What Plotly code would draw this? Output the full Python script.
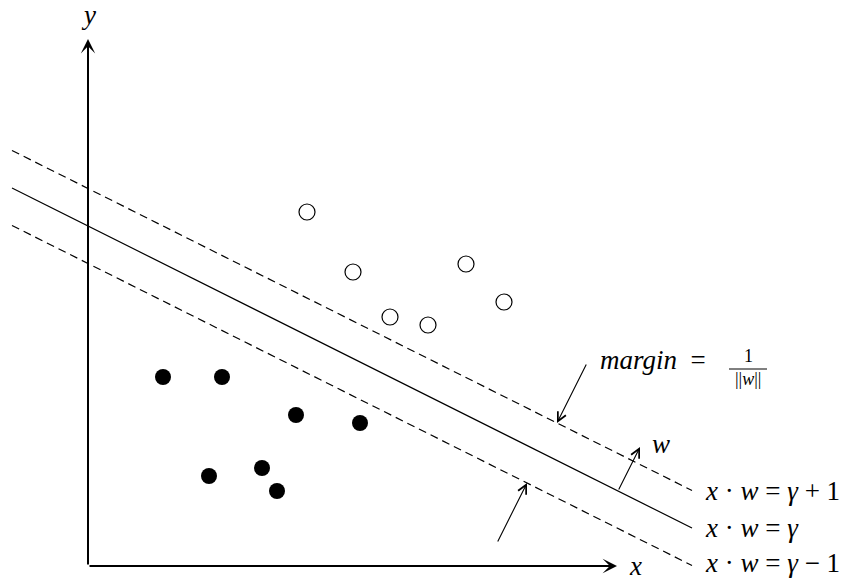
import plotly.graph_objects as go

# Data (units: 1 unit = 1 px, origin at the axes corner)
neg_x = [75, 134, 208, 272, 121, 174, 189]
neg_y = [189, 189, 151, 143, 90, 98, 75]
pos_x = [219, 265, 378, 416, 302, 340]
pos_y = [354, 294, 302, 264, 249, 241]

slope = -0.5
gamma = 340.0
half_margin = 37.5
line_x = [-76, 604]
intercepts = [gamma + half_margin, gamma, gamma - half_margin]
line_dash = ["8px,5px", "solid", "8px,5px"]
line_labels = ["<i>x</i> · <i>w</i> = <i>γ</i> + 1",
               "<i>x</i> · <i>w</i> = <i>γ</i>",
               "<i>x</i> · <i>w</i> = <i>γ</i> − 1"]

FONT = "Liberation Serif, DejaVu Serif, serif"

fig = go.Figure()

for c, d in zip(intercepts, line_dash):
    fig.add_trace(go.Scatter(
        x=line_x, y=[c + slope * xx for xx in line_x], mode="lines",
        line=dict(color="black", width=1.2, dash=d), showlegend=False, hoverinfo="skip"))

fig.add_trace(go.Scatter(x=neg_x, y=neg_y, mode="markers",
                         marker=dict(size=16, color="black", line=dict(width=0)),
                         showlegend=False))
fig.add_trace(go.Scatter(x=pos_x, y=pos_y, mode="markers",
                         marker=dict(size=16, color="white", line=dict(width=1.2, color="black")),
                         showlegend=False))

ann = []
# axes arrows
ann.append(dict(x=529, y=0, ax=0, ay=0, xref="x", yref="y", axref="x", ayref="y",
                showarrow=True, arrowhead=3, arrowsize=1.2, arrowwidth=2, arrowcolor="black", text=""))
ann.append(dict(x=0, y=527, ax=0, ay=0, xref="x", yref="y", axref="x", ayref="y",
                showarrow=True, arrowhead=3, arrowsize=1.2, arrowwidth=2, arrowcolor="black", text=""))

# normal vector direction (perpendicular to the lines)
nx, ny = 0.5, 1.0
hx = 469
hy = intercepts[0] + slope * hx
ann.append(dict(x=hx, y=hy, ax=hx + 60 * nx, ay=hy + 60 * ny, xref="x", yref="y", axref="x", ayref="y",
                showarrow=True, arrowhead=5, arrowsize=1.6, arrowwidth=1.1, arrowcolor="black", text=""))
hx = 439
hy = intercepts[2] + slope * hx
ann.append(dict(x=hx, y=hy, ax=hx - 60 * nx, ay=hy - 60 * ny, xref="x", yref="y", axref="x", ayref="y",
                showarrow=True, arrowhead=5, arrowsize=1.6, arrowwidth=1.1, arrowcolor="black", text=""))
tx = 530
ty = intercepts[1] + slope * tx
ann.append(dict(x=tx + 44 * nx, y=ty + 44 * ny, ax=tx, ay=ty, xref="x", yref="y", axref="x", ayref="y",
                showarrow=True, arrowhead=5, arrowsize=1.6, arrowwidth=1.1, arrowcolor="black", text=""))

font = dict(family=FONT, size=27, color="black")
ann.append(dict(x=0, y=551, text="<i>y</i>", showarrow=False, font=font, xanchor="center", yanchor="middle"))
ann.append(dict(x=547, y=0, text="<i>x</i>", showarrow=False, font=font, xanchor="center", yanchor="middle"))
ann.append(dict(x=573, y=122, text="<i>w</i>", showarrow=False, font=font, xanchor="center", yanchor="middle"))
for lbl, yy in zip(line_labels, [75, 38, 3]):
    ann.append(dict(x=615, y=yy, text=lbl, showarrow=False, font=font, xanchor="left", yanchor="middle"))
ann.append(dict(x=510, y=206, text="<i>margin</i>&nbsp; =", showarrow=False, font=font,
                xanchor="left", yanchor="middle"))
small = dict(family=FONT, size=18, color="black")
ann.append(dict(x=660, y=210, text="1", showarrow=False, font=small, xanchor="center", yanchor="middle"))
ann.append(dict(x=660, y=187, text="||<i>w</i>||", showarrow=False, font=small, xanchor="center", yanchor="middle"))

fig.update_layout(
    width=851, height=583, margin=dict(l=0, r=0, t=0, b=0),
    paper_bgcolor="white", plot_bgcolor="white",
    xaxis=dict(range=[-88, 763], visible=False, fixedrange=True),
    yaxis=dict(range=[-17, 566], visible=False, fixedrange=True),
    annotations=ann,
    shapes=[dict(type="line", xref="x", yref="y", x0=641, x1=679, y0=197, y1=197,
                 line=dict(color="black", width=1))],
)

fig.write_html("out.html")
